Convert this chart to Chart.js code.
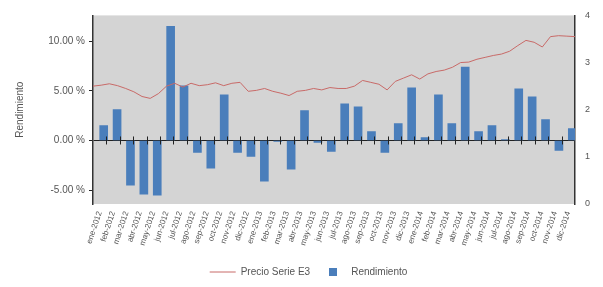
<!DOCTYPE html>
<html>
<head>
<meta charset="utf-8">
<script src="https://cdn.jsdelivr.net/npm/chart.js@4/dist/chart.umd.min.js"></script>
<style>
  html, body { margin: 0; padding: 0; background: #fff; }
  #wrap { width: 603px; height: 287px; }
</style>
</head>
<body>
<div id="wrap"><canvas id="chart" width="603" height="287"></canvas></div>
<script>
// monthly categories
const months = [
  'ene-2012', 'feb-2012', 'mar-2012', 'abr-2012', 'may-2012', 'jun-2012',
  'jul-2012', 'ago-2012', 'sep-2012', 'oct-2012', 'nov-2012', 'dic-2012',
  'ene-2013', 'feb-2013', 'mar-2013', 'abr-2013', 'may-2013', 'jun-2013',
  'jul-2013', 'ago-2013', 'sep-2013', 'oct-2013', 'nov-2013', 'dic-2013',
  'ene-2014', 'feb-2014', 'mar-2014', 'abr-2014', 'may-2014', 'jun-2014',
  'jul-2014', 'ago-2014', 'sep-2014', 'oct-2014', 'nov-2014', 'dic-2014'
];

// Rendimiento (%) per month
const rendimiento = [
  1.5, 3.1, -4.5, -5.4, -5.5, 11.5, 5.5, -1.2, -2.8, 4.6, -1.2, -1.6,
  -4.1, -0.1, -2.9, 3.0, -0.2, -1.1, 3.7, 3.4, 0.9, -1.2, 1.7, 5.3,
  0.3, 4.6, 1.7, 7.4, 0.9, 1.5, 0.1, 5.2, 4.4, 2.1, -1.0, 1.2
];

// Precio Serie E3, sampled evenly across the period (right axis)
const precio = [
  2.50, 2.52, 2.55, 2.51, 2.45, 2.38, 2.28, 2.24, 2.34, 2.50,
  2.56, 2.48, 2.56, 2.51, 2.53, 2.57, 2.51, 2.56, 2.58, 2.39,
  2.41, 2.45, 2.39, 2.35, 2.30, 2.39, 2.41, 2.45, 2.42, 2.47,
  2.45, 2.45, 2.50, 2.62, 2.58, 2.54, 2.42, 2.60, 2.67, 2.74,
  2.65, 2.76, 2.81, 2.84, 2.90, 3.00, 3.01, 3.07, 3.11, 3.15,
  3.18, 3.24, 3.36, 3.47, 3.43, 3.33, 3.55, 3.57, 3.56, 3.55
];
const precioLabels = precio.map((_, i) => String(i));

const leftTicks = [-5, 0, 5, 10];
const rightTicks = [0, 1, 2, 3, 4];

const FONT = 'Liberation Sans';
const TEXT = '#555';

// small blue square for the legend
const sq = document.createElement('canvas');
sq.width = 8; sq.height = 8;
const sctx = sq.getContext('2d');
sctx.fillStyle = '#4a7ebb';
sctx.fillRect(0, 0, 8, 8);

const plotBg = {
  id: 'plotBg',
  beforeDraw(chart) {
    const a = chart.chartArea, ctx = chart.ctx;
    ctx.save();
    ctx.fillStyle = '#d4d4d4';
    ctx.fillRect(a.left, a.top, a.right - a.left, a.bottom - a.top);
    ctx.restore();
  }
};

// tick marks between months on the zero line
const zeroTicks = {
  id: 'zeroTicks',
  afterDatasetsDraw(chart) {
    const xs = chart.scales.x, ys = chart.scales.y, ctx = chart.ctx;
    const y0 = ys.getPixelForValue(0);
    ctx.save();
    ctx.strokeStyle = '#222';
    ctx.lineWidth = 1;
    ctx.beginPath();
    for (let i = 1; i < months.length; i++) {
      const x = Math.round((xs.getPixelForValue(i - 1) + xs.getPixelForValue(i)) / 2) + 0.5;
      ctx.moveTo(x, y0 - 4);
      ctx.lineTo(x, y0 + 4);
    }
    ctx.stroke();
    ctx.restore();
  }
};

new Chart(document.getElementById('chart'), {
  type: 'bar',
  data: {
    labels: months,
    datasets: [
      {
        type: 'line',
        label: 'Precio Serie E3',
        data: precio,
        xAxisID: 'x2',
        yAxisID: 'y1',
        borderColor: '#c86a68',
        backgroundColor: '#c86a68',
        borderWidth: 1,
        pointRadius: 0,
        pointStyle: 'line',
        tension: 0,
        order: 0
      },
      {
        label: 'Rendimiento',
        data: rendimiento,
        xAxisID: 'x',
        yAxisID: 'y',
        backgroundColor: '#4a7ebb',
        pointStyle: sq,
        barThickness: 8,
        order: 1
      }
    ]
  },
  options: {
    responsive: false,
    animation: false,
    layout: { padding: { left: 14, top: 12, right: 0, bottom: 0 } },
    plugins: {
      tooltip: { enabled: false },
      legend: {
        display: true,
        position: 'bottom',
        labels: {
          color: TEXT,
          font: { family: FONT, size: 10 },
          usePointStyle: true,
          pointStyleWidth: 26,
          padding: 10
        }
      }
    },
    scales: {
      x: {
        type: 'category',
        offset: true,
        grid: { display: false, drawTicks: false },
        border: { display: false },
        ticks: {
          color: TEXT,
          font: { family: FONT, size: 8 },
          minRotation: 72,
          maxRotation: 72,
          autoSkip: false,
          padding: 6
        },
        afterFit(scale) { scale.height = 53; }
      },
      x2: {
        type: 'category',
        labels: precioLabels,
        offset: false,
        display: false
      },
      y: {
        position: 'left',
        min: -6.4,
        max: 12.6,
        afterBuildTicks(scale) { scale.ticks = leftTicks.map(v => ({ value: v })); },
        grid: {
          color: ctx => (ctx.tick && ctx.tick.value === 0 ? '#222' : 'rgba(0,0,0,0)'),
          tickColor: '#222',
          tickLength: 4
        },
        border: { display: true, color: '#333', width: 1.5 },
        ticks: {
          color: TEXT,
          font: { family: FONT, size: 10 },
          padding: 4,
          callback: v => v.toFixed(2) + ' %'
        },
        title: {
          display: true,
          text: 'Rendimiento',
          color: TEXT,
          font: { family: FONT, size: 10 },
          padding: { top: 0, bottom: 0 }
        },
        afterFit(scale) { scale.width = 79; }
      },
      y1: {
        position: 'right',
        min: 0,
        max: 4,
        afterBuildTicks(scale) { scale.ticks = rightTicks.map(v => ({ value: v })); },
        grid: { display: false, drawTicks: false },
        border: { display: true, color: '#333', width: 1.5 },
        ticks: {
          color: TEXT,
          font: { family: FONT, size: 9 },
          padding: 10
        },
        afterFit(scale) { scale.width = 28; }
      }
    }
  },
  plugins: [plotBg, zeroTicks]
});
</script>
</body>
</html>
